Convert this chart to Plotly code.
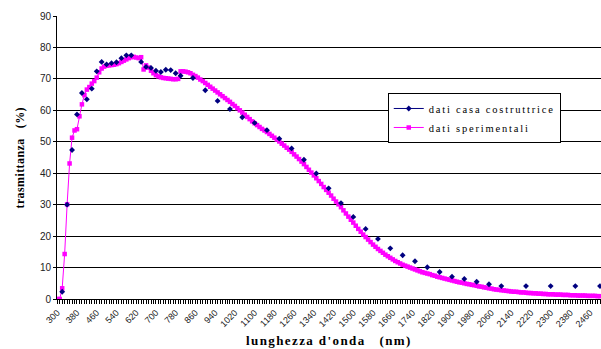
import plotly.graph_objects as go

# Wavelength grid (nm) for the measured spectrum, 10 nm steps
wl_start, wl_stop, wl_step = 300, 2500, 10
wavelengths = list(range(wl_start, wl_stop + 1, wl_step))

# Measured transmittance (%) at every wavelength of the grid
measured = [
    0.0, 0.0, 3.4, 14.3, 30.1, 43.1, 51.3, 53.6, 54.0, 58.1,            # 300-390
    61.9, 64.8, 66.6, 67.4, 68.5, 69.3, 70.4, 72.1, 73.3, 73.9,         # 400-490
    74.2, 74.3, 74.4, 74.5, 74.7, 75.0, 75.4, 75.8, 76.2, 76.6,         # 500-590
    76.9, 77.0, 76.8, 76.6, 76.9, 73.0, 74.3, 73.6, 72.6, 71.8,         # 600-690
    71.2, 70.8, 70.5, 70.3, 70.2, 70.1, 70.0, 69.9, 69.9, 70.0,         # 700-790
    72.4, 72.4, 72.3, 72.1, 71.8, 71.3, 70.9, 70.4, 69.8, 69.3,         # 800-890
    68.7, 68.1, 67.5, 66.9, 66.3, 65.7, 65.1, 64.5, 63.9, 63.3,         # 900-990
    62.7, 62.0, 61.4, 60.7, 60.0, 59.3, 58.6, 57.9, 57.2, 56.5,         # 1000-1090
    55.9, 55.3, 54.7, 54.1, 53.6, 53.1, 52.5, 51.9, 51.3, 50.7,         # 1100-1190
    50.1, 49.4, 48.8, 48.1, 47.5, 46.8, 46.0, 45.3, 44.5, 43.7,         # 1200-1290
    42.9, 42.0, 41.1, 40.2, 39.3, 38.4, 37.5, 36.6, 35.6, 34.7,         # 1300-1390
    33.8, 32.9, 31.9, 31.0, 30.1, 29.2, 28.2, 27.2, 26.2, 25.2,         # 1400-1490
    24.3, 23.3, 22.3, 21.4, 20.5, 19.7, 18.9, 18.1, 17.3, 16.6,         # 1500-1590
    15.9, 15.3, 14.7, 14.1, 13.6, 13.1, 12.6, 12.1, 11.7, 11.3,         # 1600-1690
    10.9, 10.6, 10.3, 10.0, 9.7, 9.4, 9.1, 8.8, 8.5, 8.3,               # 1700-1790
    8.1, 7.9, 7.6, 7.4, 7.1, 6.9, 6.7, 6.5, 6.3, 6.1,                   # 1800-1890
    5.9, 5.7, 5.5, 5.3, 5.2, 5.0, 4.8, 4.7, 4.5, 4.4,                   # 1900-1990
    4.2, 4.0, 3.9, 3.7, 3.6, 3.4, 3.3, 3.1, 3.0, 2.9,                   # 2000-2090
    2.8, 2.7, 2.6, 2.5, 2.4, 2.3, 2.3, 2.2, 2.1, 2.1,                   # 2100-2190
    2.0, 1.9, 1.9, 1.8, 1.8, 1.7, 1.7, 1.6, 1.6, 1.5,                   # 2200-2290
    1.5, 1.5, 1.4, 1.4, 1.4, 1.3, 1.3, 1.3, 1.2, 1.2,                   # 2300-2390
    1.2, 1.1, 1.1, 1.1, 1.1, 1.0, 1.0, 1.0, 1.0, 0.9,                   # 2400-2490
    0.9,                                                                # 2500
]

# Manufacturer's data: wavelengths (nm) and transmittance (%)
maker_wl = [
    320, 340, 360, 380, 400, 420, 440, 460, 480, 500, 520, 540, 560, 580, 600,
    640, 660, 680, 700, 720, 740, 760, 780, 800,
    850, 900, 950, 1000, 1050, 1100, 1150, 1200, 1250, 1300, 1350, 1400,
    1450, 1500, 1550, 1600, 1650, 1700, 1750, 1800, 1850, 1900, 1950, 2000,
    2050, 2100, 2200, 2300, 2400, 2500,
]
maker_t = [
    2.3, 30.0, 47.4, 58.7, 65.5, 63.5, 66.9, 72.4, 75.4, 74.6, 75.0, 75.3, 76.6, 77.5, 77.5,
    75.4, 73.8, 73.5, 72.6, 72.2, 72.9, 72.8, 71.8, 71.0,
    70.3, 66.4, 63.0, 60.4, 57.8, 56.0, 53.7, 51.0, 47.9, 44.3, 39.9, 35.2,
    30.5, 26.1, 22.3, 19.1, 16.1, 13.9, 12.0, 10.1, 8.6, 7.1, 6.4, 5.5,
    4.7, 4.1, 4.1, 4.1, 4.1, 4.1,
]

# Category tick labels every 80 nm
tick_vals = list(range(300, 2461, 80))
tick_text = [str(v) for v in tick_vals]

# Place the manufacturer points on the same 10 nm grid (gaps left empty)
maker_lookup = dict(zip(maker_wl, maker_t))
maker_on_grid = [maker_lookup.get(w) for w in wavelengths]

serif = "Liberation Serif, Times New Roman, serif"
sans = "Liberation Sans, Arial, sans-serif"

fig = go.Figure()

fig.add_trace(go.Scatter(
    x=wavelengths, y=measured,
    name='<span style="letter-spacing:1.8px">dati sperimentali</span>',
    mode="lines+markers",
    line=dict(color="#FF00FF", width=1),
    marker=dict(symbol="square", size=4.5, color="#FF00FF"),
    legendrank=2,
))

fig.add_trace(go.Scatter(
    x=wavelengths, y=maker_on_grid,
    name='<span style="letter-spacing:1.8px">dati casa costruttrice</span>',
    mode="lines+markers",
    connectgaps=False,
    line=dict(color="#000080", width=1),
    marker=dict(symbol="diamond", size=4.5, color="#000080"),
    legendrank=1,
))

fig.update_layout(
    width=601, height=349,
    margin=dict(l=57, r=0, t=16, b=49.5),
    paper_bgcolor="white", plot_bgcolor="white",
    showlegend=True,
    legend=dict(
        x=0.608, y=0.728, xanchor="left", yanchor="top",
        bgcolor="white", bordercolor="black", borderwidth=1,
        font=dict(family=serif, size=10.5, color="black"),
        tracegroupgap=0,
    ),
    xaxis=dict(
        range=[299, 2504],
        tickmode="array", tickvals=tick_vals, ticktext=tick_text,
        tickangle=-45,
        tickfont=dict(family=sans, size=9, color="#222"),
        ticks="outside", ticklen=4, tickcolor="black", tickwidth=1,
        minor=dict(dtick=10, tick0=300, ticks="outside", ticklen=4, tickcolor="black", tickwidth=1),
        showline=True, linecolor="black", linewidth=1,
        showgrid=False, zeroline=False,
    ),
    yaxis=dict(
        range=[0, 90], dtick=10, tick0=0,
        tickfont=dict(family=sans, size=10, color="#222"),
        ticks="outside", ticklen=3, tickcolor="black",
        showline=True, linecolor="black", linewidth=1,
        showgrid=True, gridcolor="black", gridwidth=1,
        zeroline=False,
    ),
    annotations=[
        dict(
            text='<span style="letter-spacing:1.4px"><b>lunghezza d\'onda\u00a0\u00a0\u00a0(nm)</b></span>',
            xref="paper", yref="paper", x=0.5, y=0, yshift=-41,
            xanchor="center", yanchor="middle", showarrow=False,
            font=dict(family=serif, size=13, color="black"),
        ),
        dict(
            text='<span style="letter-spacing:0.4px"><b>trasmittanza\u00a0\u00a0\u00a0(%)</b></span>',
            xref="paper", yref="paper", x=0, xshift=-38, y=0.5,
            xanchor="center", yanchor="middle", showarrow=False, textangle=-90,
            font=dict(family=serif, size=12, color="black"),
        ),
    ],
)

fig.write_html("out.html")
